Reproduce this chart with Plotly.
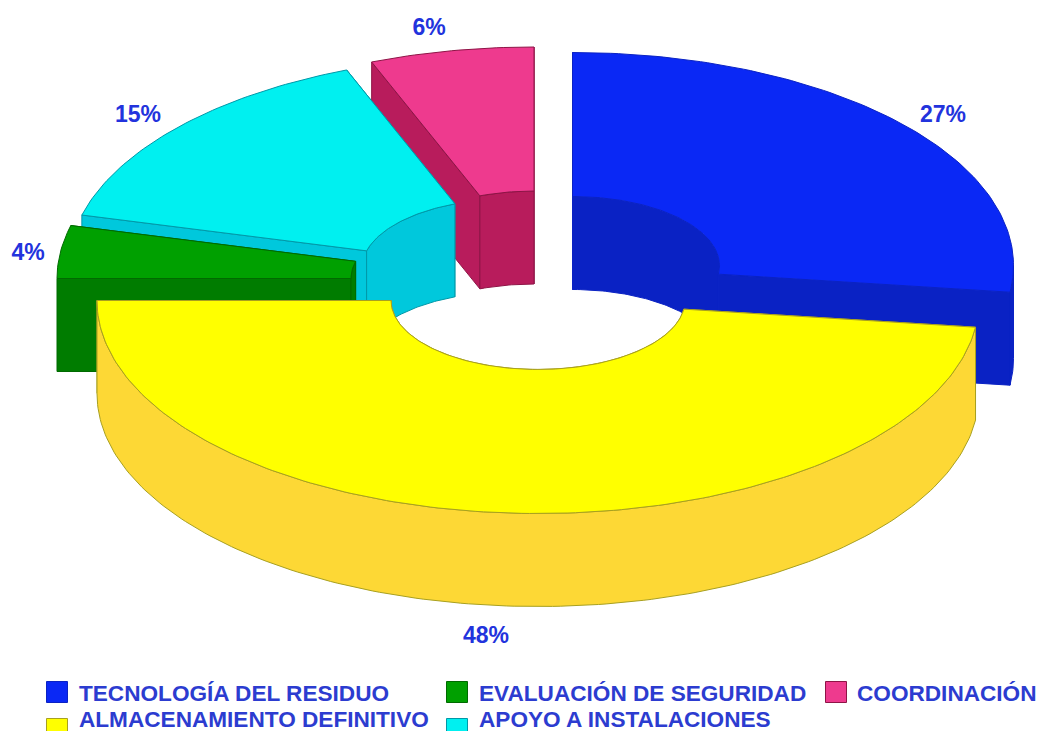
import numpy as np
import plotly.graph_objects as go

categories = ["TECNOLOGÍA DEL RESIDUO", "ALMACENAMIENTO DEFINITIVO", "EVALUACIÓN DE SEGURIDAD",
              "APOYO A INSTALACIONES", "COORDINACIÓN"]
values = [27, 48, 4, 15, 6]
top_colors = ["#0A28F5", "#FFFF00", "#00A000", "#00F0F0", "#EE3A8E"]
wall_colors = ["#0A22C4", "#FDD835", "#007C00", "#00C8DC", "#B81C5C"]
line_colors = ["#0A22C4", "#A8A020", "#006A00", "#0098A8", "#8E1446"]

# slice centres in page pixels (the exploded offsets of the 3D donut)
centres = [(572.5, 265.5), (538, 300.5), (498, 278.5), (509, 268), (534, 260)]
RX, RY, IRX, IRY, DEPTH = 441, 213, 147, 69, 93

label_pos = [(943, 116), (486, 637), (28, 254), (138, 116), (429, 29)]
legend_pos = [(57, 692), (57, 729), (457, 692), (457, 729), (836, 692)]
legend_text_x = [79, 79, 479, 479, 857]
legend_text_y = [695, 721, 695, 721, 695]

LABEL_BLUE = "#2233DD"
LEGEND_BLUE = "#2C3CD0"
FONT = "Liberation Sans, Arial, sans-serif"


def arc(c, rx, ry, a0, a1, dz=0):
    n = max(int(abs(a1 - a0)) + 2, 2)
    t = np.radians(np.linspace(a0, a1, n))
    return c[0] + rx * np.sin(t), c[1] - ry * np.cos(t) + dz


fig = go.Figure()


def poly(xs, ys, fill, line):
    fig.add_trace(go.Scatter(x=list(xs) + [xs[0]], y=list(ys) + [ys[0]], mode="lines", fill="toself",
                             fillcolor=fill, line=dict(color=line, width=1), hoverinfo="skip",
                             showlegend=False))


bounds = np.concatenate([[0], np.cumsum(values)]) * 3.6
slices = [(i, bounds[i], bounds[i + 1]) for i in range(len(values))]
for i, a0, a1 in [slices[4], slices[3], slices[2], slices[0], slices[1]]:
    c, wall, top, ln = centres[i], wall_colors[i], top_colors[i], line_colors[i]

    # end wall, then start wall
    for a in (a1, a0):
        ox, oy = arc(c, RX, RY, a, a)
        ix, iy = arc(c, IRX, IRY, a, a)
        poly([ox[0], ix[0], ix[0], ox[0]], [oy[0], iy[0], iy[0] + DEPTH, oy[0] + DEPTH], wall, ln)

    # inner wall
    ux, uy = arc(c, IRX, IRY, a0, a1)
    lx, ly = arc(c, IRX, IRY, a1, a0, DEPTH)
    poly(np.r_[ux, lx], np.r_[uy, ly], wall, ln)

    # outer wall, only where it faces the viewer
    f0, f1 = max(a0, 90), min(a1, 270)
    if f1 > f0:
        ux, uy = arc(c, RX, RY, f0, f1)
        lx, ly = arc(c, RX, RY, f1, f0, DEPTH)
        poly(np.r_[ux, lx], np.r_[uy, ly], wall, ln)

    # top face
    ux, uy = arc(c, RX, RY, a0, a1)
    lx, ly = arc(c, IRX, IRY, a1, a0)
    poly(np.r_[ux, lx], np.r_[uy, ly], top, ln)

# percentage labels
fig.add_trace(go.Scatter(x=[p[0] for p in label_pos], y=[p[1] for p in label_pos], mode="text",
                         text=[f"{v}%" for v in values], textposition="middle center",
                         textfont=dict(family=FONT, size=23, color=LABEL_BLUE, weight="bold"),
                         hoverinfo="skip", showlegend=False))

# legend
fig.add_trace(go.Scatter(x=[p[0] for p in legend_pos], y=[p[1] for p in legend_pos], mode="markers",
                         marker=dict(symbol="square", size=21, color=top_colors,
                                     line=dict(color=line_colors, width=1)),
                         hoverinfo="skip", showlegend=False))
fig.add_trace(go.Scatter(x=legend_text_x, y=legend_text_y, mode="text", text=categories,
                         textposition="middle right",
                         textfont=dict(family=FONT, size=22.6, color=LEGEND_BLUE, weight="bold"),
                         hoverinfo="skip", showlegend=False))

fig.update_xaxes(range=[0, 1041], visible=False, fixedrange=True)
fig.update_yaxes(range=[731, 0], visible=False, fixedrange=True)
fig.update_layout(width=1041, height=731, margin=dict(l=0, r=0, t=0, b=0),
                  paper_bgcolor="white", plot_bgcolor="white")
fig.write_html("out.html", config=dict(displayModeBar=False),
               post_script="document.body.style.margin='0';document.documentElement.style.overflow='hidden';")
